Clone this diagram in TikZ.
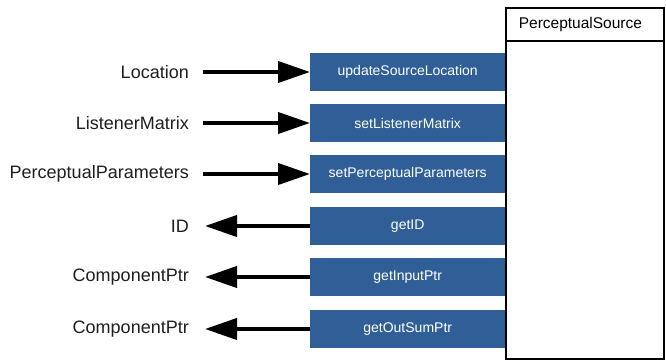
\documentclass[tikz,border=0pt]{standalone}
\usepackage{fontspec}
\setmainfont{Liberation Sans}
\usetikzlibrary{arrows.meta}
\definecolor{methodblue}{RGB}{47,95,150}
\definecolor{labelgray}{RGB}{30,30,30}
\begin{document}
\begin{tikzpicture}[x=1pt,y=-1pt,
  method/.style={fill=methodblue, text=white, anchor=west, minimum width=195pt,
    minimum height=38pt, inner sep=0pt, font=\fontsize{14}{16}\selectfont},
  lbl/.style={anchor=east, inner sep=0pt, text=labelgray,
    font=\fontsize{18}{21}\selectfont},
  arr/.style={line width=4pt, -{Triangle[length=32pt,width=21pt]}},
  frame/.style={draw, line width=1.6pt, anchor=north west, inner sep=0pt}]
\useasboundingbox (0,0) rectangle (666,363);

% method boxes along the left side of the class
\node[method] (m1) at (310,72)  {updateSourceLocation};
\node[method] (m2) at (310,123) {setListenerMatrix};
\node[method] (m3) at (310,174) {setPerceptualParameters};
\node[method] (m4) at (310,226) {getID};
\node[method] (m5) at (310,277) {getInputPtr};
\node[method] (m6) at (310,329) {getOutSumPtr};

% class box with header
\node[frame, minimum width=158pt, minimum height=318pt] (body) at (505,40) {};
\node[frame, minimum width=158pt, minimum height=33pt, inner xsep=13pt,
  text width=132pt, align=left, font=\fontsize{15.5}{18}\selectfont]
  (hdr) at (505,7) {PerceptualSource};

% parameter and return labels
\node[lbl] (l1) at (189,72)  {Location};
\node[lbl] (l2) at (189,123) {ListenerMatrix};
\node[lbl] (l3) at (189,174) {PerceptualParameters};
\node[lbl] (l4) at (189,226) {ID};
\node[lbl] (l5) at (189,277) {ComponentPtr};
\node[lbl] (l6) at (189,329) {ComponentPtr};

% inputs
\draw[arr] ([xshift=14pt]l1.east) -- (m1.west);
\draw[arr] ([xshift=14pt]l2.east) -- (m2.west);
\draw[arr] ([xshift=14pt]l3.east) -- (m3.west);
% outputs
\draw[arr] (m4.west) -- ([xshift=16pt]l4.east);
\draw[arr] (m5.west) -- ([xshift=16pt]l5.east);
\draw[arr] (m6.west) -- ([xshift=16pt]l6.east);
\end{tikzpicture}
\end{document}
